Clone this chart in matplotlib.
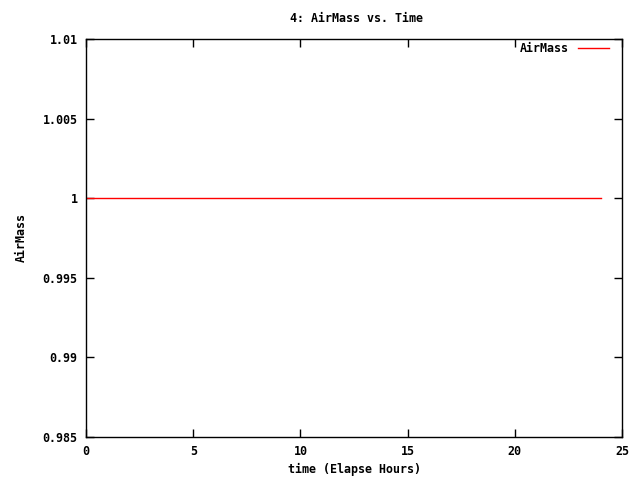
import matplotlib
matplotlib.use('Agg')
import matplotlib.pyplot as plt

hours = [0, 6, 12, 18, 24]
airmass = [1.0, 1.0, 1.0, 1.0, 1.0]
xticks = [0, 5, 10, 15, 20, 25]
yticks = [0.985, 0.99, 0.995, 1.0, 1.005, 1.01]
ytick_labels = ['0.985', '0.99', '0.995', '1', '1.005', '1.01']

plt.rcParams['font.family'] = 'DejaVu Sans Mono'
plt.rcParams['font.weight'] = 'bold'
fs = 8.4

fig = plt.figure(figsize=(6.4, 4.8), dpi=100)
ax = fig.add_axes([86/640, 1-437/480, (622-86)/640, (437-39)/480])

ax.plot(hours, airmass, color='red', linewidth=1.0, label='AirMass')
ax.set_xlim(0, 25)
ax.set_ylim(0.985, 1.01)
ax.set_xticks(xticks)
ax.set_xticklabels([str(t) for t in xticks], fontsize=fs, fontweight='bold')
ax.set_yticks(yticks)
ax.set_yticklabels(ytick_labels, fontsize=fs, fontweight='bold')
ax.tick_params(direction='in', length=6, width=1, top=True, right=True, pad=6)
for s in ax.spines.values():
    s.set_linewidth(1)

ax.set_xlabel('time (Elapse Hours)', fontsize=fs, fontweight='bold', labelpad=3)
ax.set_ylabel('AirMass', fontsize=fs, fontweight='bold', labelpad=11)
fig.text(357/640, 1-18/480, '4: AirMass vs. Time', ha='center', va='center', fontsize=fs, fontweight='bold')

leg = ax.legend(loc='upper right', frameon=False, markerfirst=False, fontsize=fs,
                handlelength=2.7, borderpad=0, borderaxespad=0, handletextpad=0.75,
                bbox_to_anchor=((609-86)/536, 1-(42-39)/398))
for t in leg.get_texts():
    t.set_fontweight('bold')

fig.savefig('out.png', dpi=100)
